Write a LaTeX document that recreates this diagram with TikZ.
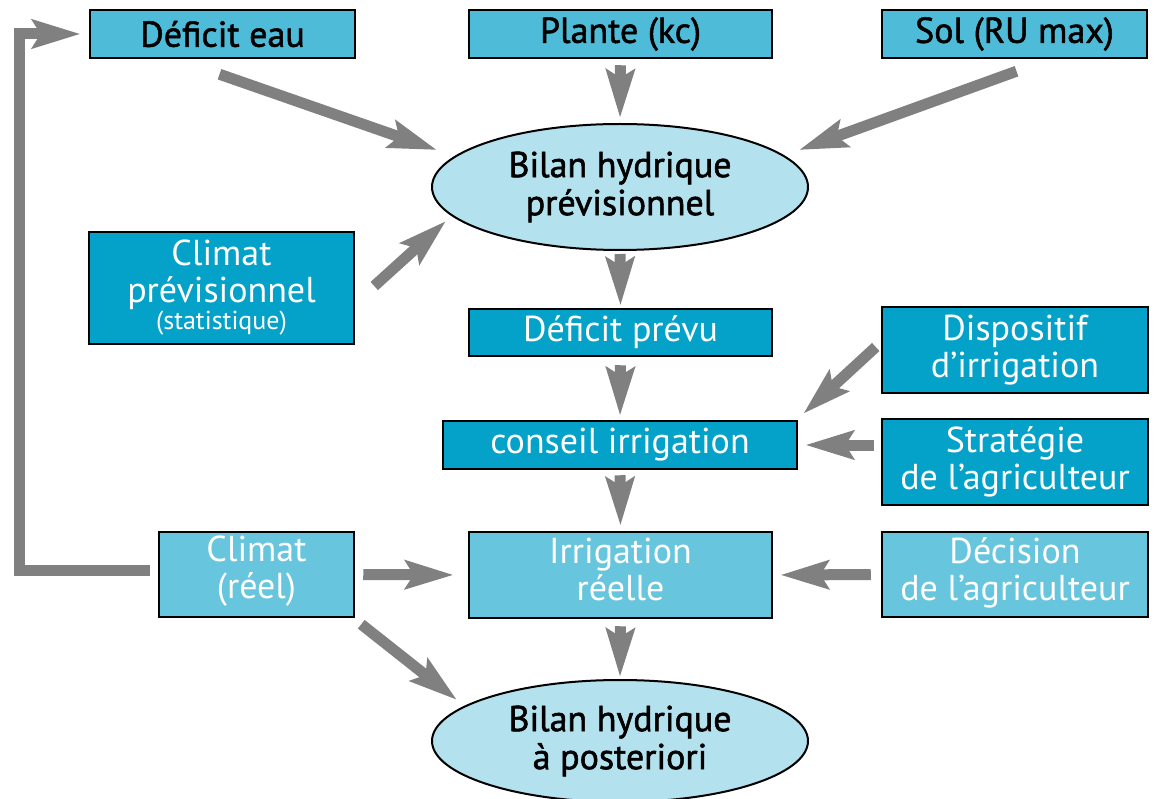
\documentclass[tikz,border=0pt]{standalone}
\usepackage{fontspec}
\setmainfont{PT Sans}
\newfontfamily\blkfont[FakeBold=1.5]{PT Sans}
\usetikzlibrary{arrows.meta,shapes.geometric,calc}
\definecolor{topfill}{HTML}{4EBBD8}
\definecolor{darkfill}{HTML}{04A1C8}
\definecolor{lightfill}{HTML}{67C5DE}
\definecolor{ellfill}{HTML}{B3E1EE}
\definecolor{arrgray}{HTML}{808080}
\newcommand{\lowstrut}[1]{\rule[-#1]{0pt}{#1}}
\tikzset{
  basebox/.style={draw=black, line width=2.5pt, rectangle, inner sep=0pt, align=center,
    font=\fontsize{36}{37}\selectfont},
  topbox/.style={basebox, fill=topfill, text=black, minimum height=48pt,
    font=\fontsize{36}{37}\selectfont\blkfont},
  darkbox/.style={basebox, fill=darkfill, text=white},
  lightbox/.style={basebox, fill=lightfill, text=white},
  ellbox/.style={draw=black, line width=2pt, ellipse, inner sep=0pt, fill=ellfill, text=black,
    align=center, font=\fontsize{36}{38}\selectfont\blkfont},
  arr/.style={draw=arrgray, line width=11pt, line join=miter,
    -{Stealth[length=48pt,width=28pt,inset=8pt]}},
}
\begin{document}
\begin{tikzpicture}[x=1pt,y=-1pt]
\useasboundingbox (0,0) rectangle (1155,799);
% nodes
\node[topbox, minimum width=265pt] (defeau) at (222.5,34) {Déficit eau};
\node[topbox, minimum width=303pt] (plante) at (620.5,34) {Plante (kc)};
\node[topbox, minimum width=265pt] (sol) at (1014.5,34) {Sol (RU max)};
\node[ellbox, minimum width=376pt, minimum height=126pt] (bhp) at (620,187) {Bilan hydrique\\prévisionnel};
\node[darkbox, minimum width=265pt, minimum height=112pt] (climprev) at (221.5,288)
  {Climat\\prévisionnel\\[-10pt]{\fontsize{26}{26}\selectfont (statistique)}};
\node[darkbox, minimum width=303pt, minimum height=47pt] (defprev) at (620.5,332.5) {Déficit prévu};
\node[darkbox, minimum width=266pt, minimum height=86pt] (dispo) at (1015,350) {Dispositif\\d’irrigation};
\node[darkbox, minimum width=354pt, minimum height=48pt] (conseil) at (620,445) {conseil irrigation};
\node[darkbox, minimum width=266pt, minimum height=86pt] (strat) at (1015,462) {Stratégie\\de l’agriculteur\lowstrut{4pt}};
\node[lightbox, minimum width=195pt, minimum height=85pt] (climreel) at (256.5,574.5) {Climat\\(réel)\lowstrut{14pt}};
\node[lightbox, minimum width=303pt, minimum height=86pt] (irrig) at (620.5,575) {Irrigation\\réelle\lowstrut{12pt}};
\node[lightbox, minimum width=266pt, minimum height=85pt] (decision) at (1015,574.5) {Décision\\de l’agriculteur\lowstrut{10pt}};
\node[ellbox, minimum width=376pt, minimum height=122pt] (bhpost) at (620,741) {Bilan hydrique\\à posteriori};
% connectors
\draw[arr, shorten <=6pt, shorten >=5pt] (plante.south) -- (bhp.north);
\draw[arr, shorten <=3pt, shorten >=2pt] (bhp.south) -- (defprev.north);
\draw[arr, shorten <=8pt, shorten >=4pt] (defprev.south) -- (conseil.north);
\draw[arr, shorten <=5pt, shorten >=5pt] (conseil.south) -- (irrig.north);
\draw[arr, shorten <=7pt, shorten >=2pt] (irrig.south) -- (bhpost.north);
\draw[arr, shorten <=7pt, shorten >=7pt] (strat.west |- conseil.east) -- (conseil.east);
\draw[arr, shorten <=10pt, shorten >=7pt] (decision.west) -- (irrig.east);
\draw[arr, shorten <=8pt, shorten >=14pt] (climreel.east) -- (irrig.west);
\coordinate (fbc) at (19,570);
\draw[arr, shorten <=8pt, shorten >=8pt] (climreel.west |- fbc) -- (fbc) |- (defeau.west);
\draw[arr] ($(defeau.south)+(-3,15)$) -- ($(bhp.west)+(6,-37)$);
\draw[arr] ($(sol.south)+(2,12)$) -- ($(bhp.east)+(-10,-37)$);
\draw[arr] ($(climprev.east)+(19,-2)$) -- ($(bhp.west)+(15,34)$);
\draw[arr] ($(dispo.west)+(-5,-3)$) -- ($(conseil.north east)+(5,-6)$);
\draw[arr] ($(climreel.south east)+(6,6)$) -- ($(bhpost.west)+(26,-41)$);
\end{tikzpicture}
\end{document}
